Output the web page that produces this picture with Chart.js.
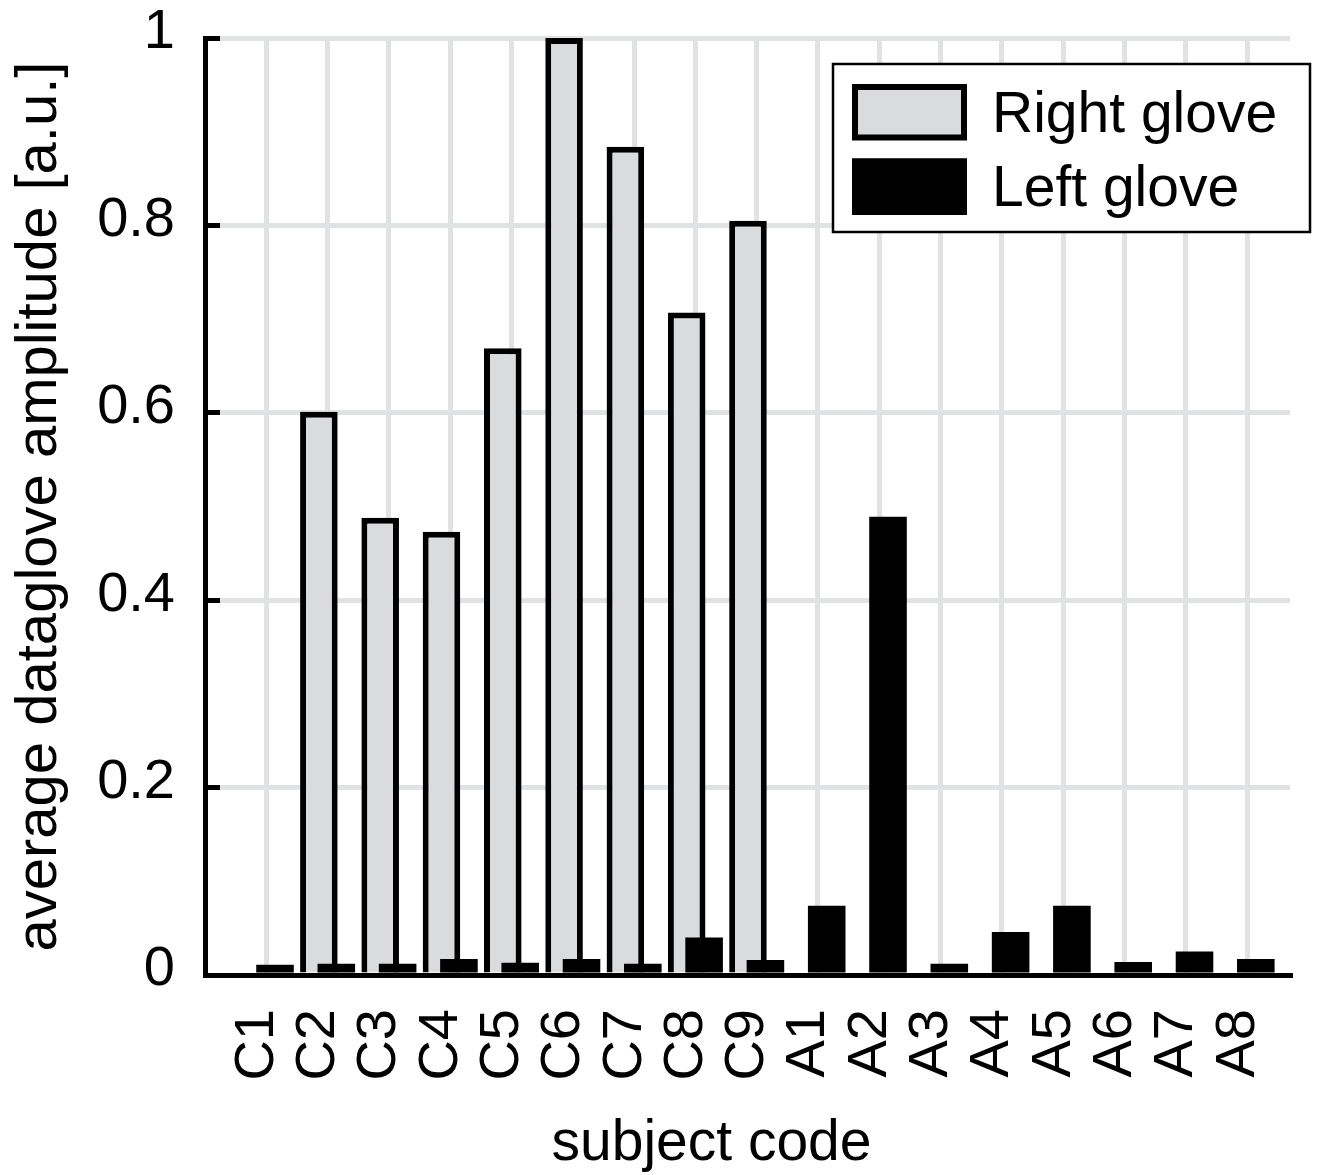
<!DOCTYPE html>
<html>
<head>
<meta charset="utf-8">
<script src="https://cdn.jsdelivr.net/npm/chart.js@4.4.1/dist/chart.umd.min.js"></script>
<style>
  html, body { margin: 0; padding: 0; background: #fff; }
  #wrap { width: 1320px; height: 1175px; position: relative; }
</style>
</head>
<body>
<div id="wrap"><canvas id="c" width="1320" height="1175"></canvas></div>
<script>
// ---- data ----
const categories = ['C1','C2','C3','C4','C5','C6','C7','C8','C9','A1','A2','A3','A4','A5','A6','A7','A8'];
const rightGlove = [0, 0.601, 0.488, 0.473, 0.669, 1.0, 0.884, 0.707, 0.805, 0, 0, 0, 0, 0, 0, 0, 0];
const leftGlove  = [0.011, 0.012, 0.012, 0.017, 0.013, 0.017, 0.012, 0.040, 0.016, 0.074, 0.489, 0.012, 0.046, 0.074, 0.014, 0.025, 0.017];
const yTicks = [0, 0.2, 0.4, 0.6, 0.8, 1];
const seriesLabels = ['Right glove', 'Left glove'];
const xTitle = 'subject code';
const yTitle = 'average dataglove amplitude [a.u.]';

const FONT = "'Liberation Sans', Arial, Helvetica, sans-serif";
const GRID = '#e1e2e4';
const GRAYFILL = '#dadbdd';

Chart.defaults.font.family = FONT;
Chart.defaults.color = '#000';

// draw datasets in index order so the left-glove bars sit on top
const drawOrder = {
  id: 'drawOrder',
  beforeDatasetsDraw(chart) {
    chart.data.datasets.forEach((d, i) => {
      const meta = chart.getDatasetMeta(i);
      if (meta.visible) meta.controller.draw();
    });
    return false;
  }
};

// legend box inside plot + x-axis title
const extras = {
  id: 'extras',
  afterDraw(chart) {
    const ctx = chart.ctx;
    const ca = chart.chartArea;
    ctx.save();
    const bx = ca.right - 457, by = ca.top + 26, bw = 477, bh = 168;
    ctx.fillStyle = '#fff';
    ctx.fillRect(bx, by, bw, bh);
    ctx.lineWidth = 2.5;
    ctx.strokeStyle = '#000';
    ctx.strokeRect(bx, by, bw, bh);
    chart.data.datasets.forEach((ds, i) => {
      const sy = by + 20 + i * 74.5;
      const sx = bx + 19;
      ctx.fillStyle = ds.borderColor;
      ctx.fillRect(sx, sy, 115, 56.5);
      const bwid = ds.borderWidth || 0;
      ctx.fillStyle = ds.backgroundColor;
      if (bwid) ctx.fillRect(sx + bwid, sy + bwid, 115 - 2 * bwid, 56.5 - 2 * bwid);
      else ctx.fillRect(sx, sy, 115, 56.5);
      ctx.fillStyle = '#000';
      ctx.font = '57px ' + FONT;
      ctx.textBaseline = 'middle';
      ctx.textAlign = 'left';
      ctx.fillText(ds.label, bx + 159, sy + 32);
    });
    ctx.font = '57px ' + FONT;
    ctx.textAlign = 'center';
    ctx.textBaseline = 'alphabetic';
    ctx.fillStyle = '#000';
    ctx.fillText(xTitle, (ca.left + ca.right) / 2 - 36, 1160);
    ctx.restore();
  }
};

new Chart(document.getElementById('c'), {
  type: 'bar',
  data: {
    datasets: [
      {
        label: seriesLabels[0],
        data: rightGlove.map((v, i) => ({ x: i + 1, y: v })),
        backgroundColor: GRAYFILL,
        borderColor: '#000',
        borderWidth: 6,
        borderSkipped: 'start'
      },
      {
        label: seriesLabels[1],
        data: leftGlove.map((v, i) => ({ x: i + 1, y: v })),
        backgroundColor: '#000',
        borderColor: '#000',
        borderWidth: 0
      }
    ]
  },
  options: {
    responsive: false,
    animation: false,
    categoryPercentage: 0.569,
    barPercentage: 2.155,
    layout: { padding: { top: 38, right: 30, left: 0, bottom: 0 } },
    plugins: {
      legend: { display: false },
      tooltip: { enabled: false }
    },
    scales: {
      x: {
        type: 'linear',
        offset: false,
        min: 0,
        max: 17.7,
        afterBuildTicks(scale) {
          scale.ticks = categories.map((c, i) => ({ value: i + 1 }));
        },
        afterFit(scale) {
          scale.height = 200;
          scale.paddingLeft = 0; scale.paddingRight = 0;
        },
        ticks: {
          autoSkip: false,
          minRotation: 90,
          maxRotation: 90,
          padding: 34,
          labelOffset: -9,
          font: { size: 56 },
          color: '#000',
          callback: (v) => categories[v - 1] ?? ''
        },
        grid: { offset: false, color: GRID, lineWidth: 5, drawTicks: false },
        border: { color: '#000', width: 5 }
      },
      y: {
        min: 0,
        max: 1,
        afterBuildTicks(scale) {
          scale.ticks = yTicks.map(v => ({ value: v }));
        },
        afterFit(scale) {
          scale.width = 205;
          scale.paddingTop = 0; scale.paddingBottom = 0;
        },
        ticks: {
          padding: 45,
          labelOffset: -5,
          font: { size: 56 },
          color: '#000',
          callback: (v) => String(v)
        },
        grid: { color: GRID, lineWidth: 5, drawTicks: true, tickLength: -15, tickColor: '#000', tickWidth: 5 },
        border: { color: '#000', width: 5 },
        title: {
          display: true,
          text: yTitle,
          font: { size: 58, lineHeight: 1.2 },
          color: '#000',
          padding: { top: 5, bottom: 0 }
        }
      }
    }
  },
  plugins: [drawOrder, extras]
});
</script>
</body>
</html>
